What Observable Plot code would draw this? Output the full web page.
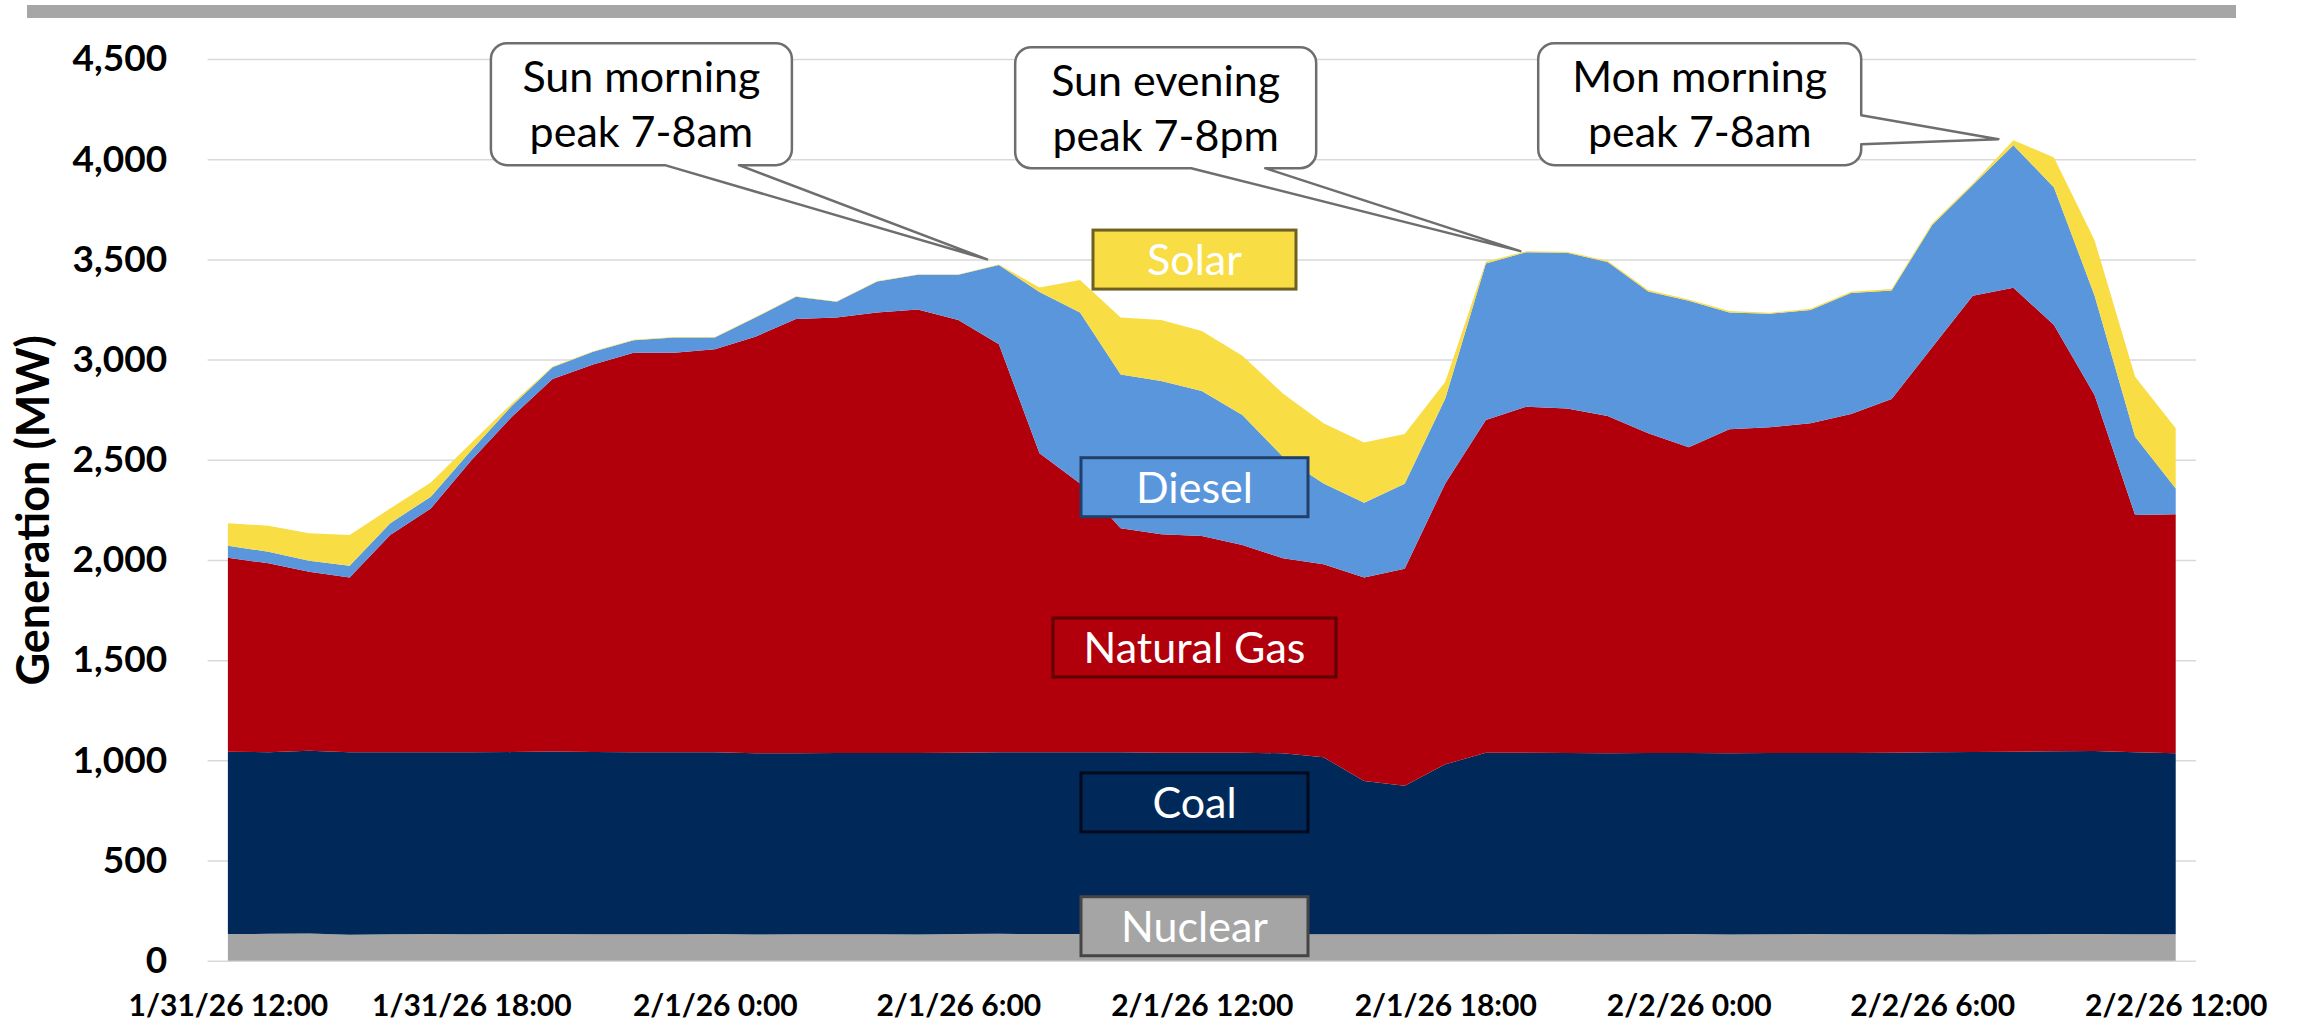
<!DOCTYPE html>
<html><head><meta charset="utf-8">
<script src="https://cdn.jsdelivr.net/npm/d3@7"></script>
<script src="https://cdn.jsdelivr.net/npm/@observablehq/plot@0.6"></script>
<style>
html,body{margin:0;padding:0;background:#fff;}
#wrap{position:relative;width:2303px;height:1023px;overflow:hidden;}
#topbar{position:absolute;left:27px;top:5px;width:2209px;height:13px;background:#A6A6A6;}
#wrap svg{position:absolute;left:0;top:0;overflow:visible;}
</style></head><body>
<div id="wrap"><div id="topbar"></div></div>
<script>
// ---- data ----
const fuels = ["Nuclear", "Coal", "Natural Gas", "Diesel", "Solar"];
const colors = ["#A5A5A5", "#00295A", "#B1000B", "#5A96DC", "#F9DD45"];
const nuclear = [133,134,136,130,132,133,132,133,133,132,132,132,133,131,132,132,132,131,133,134,133,133,132,132,132,131,132,132,132,132,132,132,133,133,132,132,133,131,132,133,132,132,132,131,132,133,133,132,132];
const coal = [910,906,912,910,908,907,908,908,911,910,908,908,907,904,903,904,905,906,905,906,907,907,908,906,906,907,903,883,765,741,848,906,905,903,903,904,903,904,904,904,905,906,908,911,911,912,913,908,903];
const naturalGas = [968,943,893,873,1084,1217,1458,1674,1859,1934,1994,1994,2011,2079,2167,2174,2198,2213,2159,2037,1492,1342,1118,1090,1081,1036,973,963,1016,1083,1402,1660,1727,1720,1683,1596,1526,1617,1626,1645,1691,1765,2021,2277,2316,2127,1777,1184,1193];
const diesel = [60,58,55,58,59,59,50,55,59,63,63,76,59,96,111,78,155,173,226,395,805,853,768,765,724,649,507,404,373,424,424,782,771,777,769,708,731,583,567,565,604,542,610,552,711,687,497,391,129];
const solar = [112,130,137,153,74,71,37,11,4,2,2,2,2,2,3,2,2,2,2,2,23,162,284,304,299,296,316,300,300,248,83,8,5,5,6,7,7,7,5,7,6,7,9,8,25,150,276,299,300];
const yTicks = [0,500,1000,1500,2000,2500,3000,3500,4000,4500];
const tickLabels = ["1/31/26 12:00","1/31/26 18:00","2/1/26 0:00","2/1/26 6:00","2/1/26 12:00","2/1/26 18:00","2/2/26 0:00","2/2/26 6:00","2/2/26 12:00"];
const tickHours = [0,6,12,18,24,30,36,42,48];

// ---- build table ----
const HOUR = 3600000;
const t0 = Date.UTC(2026, 0, 31, 12);
const hours = d3.utcHour.range(new Date(t0), new Date(t0 + 49 * HOUR));
const series = [nuclear, coal, naturalGas, diesel, solar];
const rows = fuels.flatMap((f, k) => series[k].map((v, i) => ({time: hours[i], fuel: f, mw: v})));
const tickTimes = tickHours.map(h => new Date(t0 + h * HOUR));
const fmtX = d => tickLabels[tickTimes.findIndex(t => +t === +d)];

const chart = Plot.plot({
  width: 2303, height: 1023,
  marginLeft: 207.6, marginRight: 107, marginTop: 59, marginBottom: 62.3,
  style: {fontFamily: "Lato, 'Open Sans', sans-serif", background: "transparent", fontSize: "36px"},
  x: {type: "utc", domain: [new Date(t0 - HOUR / 2), new Date(t0 + 48.5 * HOUR)]},
  y: {domain: [0, 4500]},
  color: {domain: fuels, range: colors},
  marks: [
    Plot.gridY(yTicks, {stroke: "#D9D9D9", strokeOpacity: 1, strokeWidth: 1.5}),
    Plot.areaY(rows, {x: "time", y: "mw", fill: "fuel", order: fuels, curve: "linear"}),
    Plot.axisY(yTicks, {tickSize: 0, tickPadding: 41, tickFormat: d3.format(","), fontSize: 37, fontWeight: "bold", fill: "#000", label: null}),
    Plot.axisX(tickTimes, {tickSize: 0, tickPadding: 33.5, tickFormat: fmtX, fontSize: 30, fontWeight: "bold", fill: "#000", label: null}),
    Plot.text(["Generation (MW)"], {text: d => d, frameAnchor: "left", textAnchor: "middle", dx: -174, rotate: -90, fontSize: 45, fontWeight: "bold", fill: "#000"})
  ]
});
document.getElementById("wrap").appendChild(chart);

// ---- annotations positioned through the chart's scales ----
const xs = chart.scale("x"), ys = chart.scale("y");
const xAt = h => xs.apply(new Date(t0 + h * HOUR));
const svg = d3.select(chart);
const fontFam = "Lato, 'Open Sans', sans-serif";

// series label boxes
const labelHour = 23.82;
const labelBoxes = [
  {text: "Solar", mw: 3499, w: 203, stroke: "#6E6020"},
  {text: "Diesel", mw: 2363, w: 227, stroke: "#223F6A"},
  {text: "Natural Gas", mw: 1563, w: 283, stroke: "#5C0000"},
  {text: "Coal", mw: 790, w: 227, stroke: "#000A1C"},
  {text: "Nuclear", mw: 172, w: 227, stroke: "#454545"}
];
const gL = svg.append("g");
labelBoxes.forEach(b => {
  const cx = xAt(labelHour), cy = ys.apply(b.mw), h = 59;
  gL.append("rect").attr("x", cx - b.w / 2).attr("y", cy - h / 2).attr("width", b.w).attr("height", h)
    .attr("fill", colors[fuels.indexOf(b.text)]).attr("stroke", b.stroke).attr("stroke-width", 3);
  gL.append("text").attr("x", cx).attr("y", cy).attr("dy", "0.36em").attr("text-anchor", "middle")
    .attr("fill", "#fff").attr("font-family", fontFam).attr("font-size", 43).text(b.text);
});

// callouts
const callouts = [
  {lines: ["Sun morning", "peak 7-8am"], cx: 10.19, w: 301, topMW: 4579, h: 122, tip: [18.71, 3500], side: "bottom", base: [23.5, 97.5]},
  {lines: ["Sun evening", "peak 7-8pm"], cx: 23.11, w: 301, topMW: 4559, h: 121, tip: [31.85, 3541], side: "bottom", base: [25.5, 99.5]},
  {lines: ["Mon morning", "peak 7-8am"], cx: 36.27, w: 323, topMW: 4579, h: 122, tip: [43.63, 4100], side: "right", base: [72, 101]}
];
const gC = svg.append("g");
callouts.forEach(c => {
  const mx = xAt(c.cx), x0 = mx - c.w / 2, x1 = mx + c.w / 2;
  const y0 = ys.apply(c.topMW), y1 = y0 + c.h, r = 16;
  const tx = xAt(c.tip[0]), ty = ys.apply(c.tip[1]);
  let p = `M${x0 + r},${y0} H${x1 - r} A${r},${r} 0 0 1 ${x1},${y0 + r} `;
  if (c.side === "right") {
    p += `V${y0 + c.base[0]} L${tx},${ty} L${x1},${y0 + c.base[1]} `;
  }
  p += `V${y1 - r} A${r},${r} 0 0 1 ${x1 - r},${y1} `;
  if (c.side === "bottom") {
    p += `H${mx + c.base[1]} L${tx},${ty} L${mx + c.base[0]},${y1} `;
  }
  p += `H${x0 + r} A${r},${r} 0 0 1 ${x0},${y1 - r} V${y0 + r} A${r},${r} 0 0 1 ${x0 + r},${y0} Z`;
  gC.append("path").attr("d", p).attr("fill", "#fff").attr("stroke", "#6E6E6E").attr("stroke-width", 2.5).attr("stroke-linejoin", "round");
  c.lines.forEach((ln, j) => {
    gC.append("text").attr("x", mx).attr("y", y0 + 49 + j * 55).attr("text-anchor", "middle")
      .attr("fill", "#000").attr("font-family", fontFam).attr("font-size", 43).text(ln);
  });
});
</script>
</body></html>
